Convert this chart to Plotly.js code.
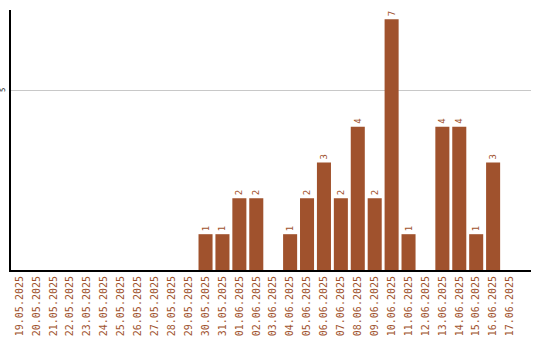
<!DOCTYPE html>
<html><head><meta charset="utf-8">
<script src="https://cdn.plot.ly/plotly-3.0.1.min.js"></script>
<style>html,body{margin:0;padding:0;background:#fff}#c{width:540px;height:340px}</style>
</head><body><div id="c"></div>
<script>
const dates = ["19.05.2025","20.05.2025","21.05.2025","22.05.2025","23.05.2025","24.05.2025","25.05.2025","26.05.2025","27.05.2025","28.05.2025","29.05.2025","30.05.2025","31.05.2025","01.06.2025","02.06.2025","03.06.2025","04.06.2025","05.06.2025","06.06.2025","07.06.2025","08.06.2025","09.06.2025","10.06.2025","11.06.2025","12.06.2025","13.06.2025","14.06.2025","15.06.2025","16.06.2025","17.06.2025"];
const counts = [0,0,0,0,0,0,0,0,0,0,0,1,1,2,2,0,1,2,3,2,4,2,7,1,0,4,4,1,3,0];
const yTicks = [5];
const labels = counts.map(v => v ? String(v) : "");
const brown = "#a0522d";
Plotly.newPlot("c", [{
  type: "bar", x: dates, y: counts, text: labels,
  textposition: "outside", textangle: -90, cliponaxis: false,
  textfont: {family: "DejaVu Sans Mono", size: 9, color: brown},
  marker: {color: brown, line: {width: 0}},
  hoverinfo: "none"
}], {
  width: 540, height: 340,
  margin: {l: 11, r: 9, t: 10, b: 70, pad: 0},
  paper_bgcolor: "#fff", plot_bgcolor: "#fff",
  bargap: 0.17, showlegend: false,
  xaxis: {type: "category", range: [-0.5, 30.24], tickangle: -90,
    tickfont: {family: "DejaVu Sans Mono", size: 10, color: brown},
    showline: true, linecolor: "#000", linewidth: 2, showgrid: false, ticks: "", zeroline: false, automargin: false},
  yaxis: {range: [0, 7.26], tickmode: "array", tickvals: yTicks, ticktext: yTicks.map(String), tickangle: -90,
    showline: true, linecolor: "#000", linewidth: 2, ticklabelstandoff: 1,
    showgrid: true, gridcolor: "#c8c8c8", gridwidth: 1, zeroline: false, ticks: "",
    tickfont: {family: "DejaVu Sans Mono", size: 7, color: "#000"}, automargin: false}
}, {staticPlot: true, displayModeBar: false});
</script></body></html>
